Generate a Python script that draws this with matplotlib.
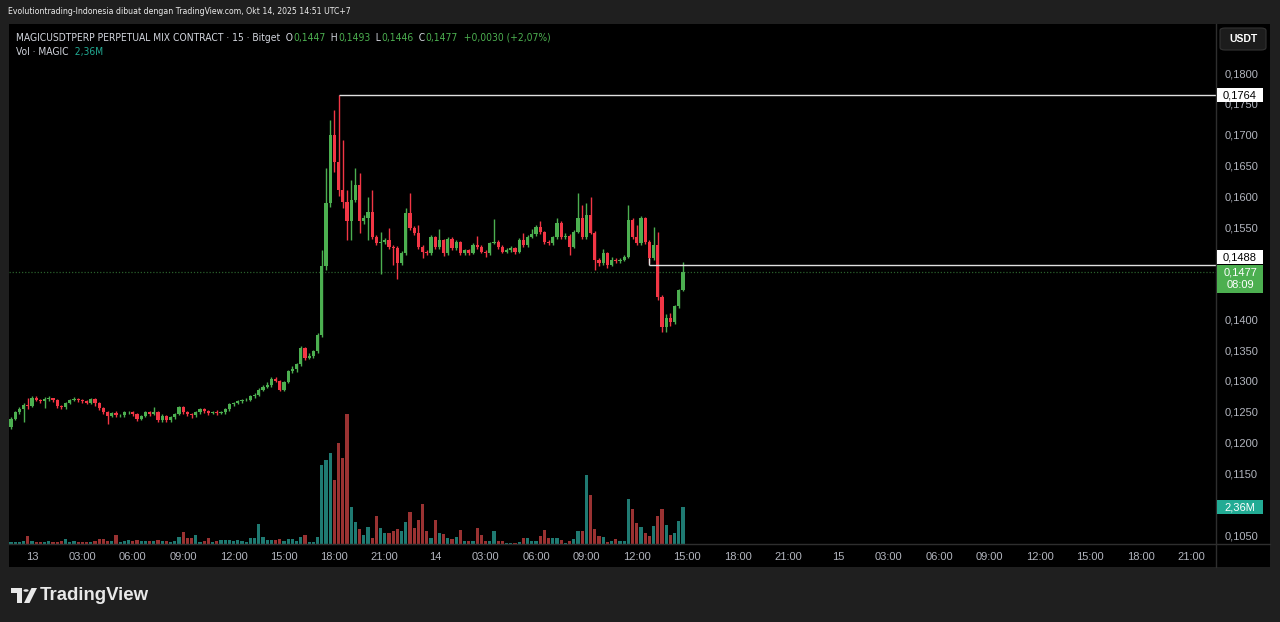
import matplotlib
matplotlib.use("Agg")
import matplotlib.pyplot as plt
import numpy as np
from matplotlib.patches import Rectangle, FancyBboxPatch, Polygon, Circle
from matplotlib.lines import Line2D
from matplotlib import font_manager

# ---------------- data (MAGICUSDTPERP, 15m, Bitget) ----------------
first_open = 0.1225
closes = [
    0.1238, 0.1249, 0.1254, 0.1261, 0.1259, 0.1272, 0.1269, 0.1267, 0.1270, 0.1272,
    0.1269, 0.1259, 0.1257, 0.1264, 0.1269, 0.1270, 0.1269, 0.1267, 0.1264, 0.1270,
    0.1264, 0.1256, 0.1249, 0.1243, 0.1248, 0.1244, 0.1244, 0.1249, 0.1249, 0.1246,
    0.1239, 0.1243, 0.1249, 0.1246, 0.1249, 0.1236, 0.1243, 0.1236, 0.1241, 0.1246,
    0.1257, 0.1249, 0.1246, 0.1244, 0.1249, 0.1254, 0.1251, 0.1248, 0.1249, 0.1248,
    0.1249, 0.1254, 0.1262, 0.1264, 0.1267, 0.1269, 0.1269, 0.1275, 0.1278, 0.1286,
    0.1291, 0.1293, 0.1303, 0.1300, 0.1286, 0.1298, 0.1316, 0.1319, 0.1327, 0.1354,
    0.1337, 0.1340, 0.1348, 0.1375, 0.1486, 0.1589, 0.1700, 0.1656, 0.1610, 0.1591,
    0.1559, 0.1594, 0.1618, 0.1559, 0.1565, 0.1575, 0.1534, 0.1524, 0.1526, 0.1529,
    0.1518, 0.1516, 0.1492, 0.1508, 0.1573, 0.1549, 0.1541, 0.1518, 0.1510, 0.1508,
    0.1534, 0.1518, 0.1529, 0.1507, 0.1531, 0.1516, 0.1526, 0.1508, 0.1512, 0.1508,
    0.1521, 0.1518, 0.1510, 0.1508, 0.1524, 0.1526, 0.1518, 0.1510, 0.1513, 0.1516,
    0.1510, 0.1529, 0.1520, 0.1534, 0.1538, 0.1550, 0.1542, 0.1526, 0.1524, 0.1533,
    0.1557, 0.1533, 0.1536, 0.1518, 0.1542, 0.1565, 0.1534, 0.1570, 0.1541, 0.1497,
    0.1492, 0.1508, 0.1489, 0.1497, 0.1494, 0.1497, 0.1502, 0.1562, 0.1533, 0.1524,
    0.1565, 0.1526, 0.1500, 0.1521, 0.1436, 0.1388, 0.1403, 0.1395, 0.1421, 0.1447,
    0.1477,
]
highs = [
    0.1241, 0.1252, 0.1257, 0.1264, 0.1272, 0.1275, 0.1275, 0.1271, 0.1274, 0.1275,
    0.1273, 0.1271, 0.1261, 0.1266, 0.1271, 0.1274, 0.1272, 0.1271, 0.1269, 0.1273,
    0.1272, 0.1266, 0.1258, 0.1251, 0.1250, 0.1251, 0.1247, 0.1252, 0.1252, 0.1251,
    0.1248, 0.1245, 0.1251, 0.1252, 0.1257, 0.1251, 0.1246, 0.1245, 0.1243, 0.1248,
    0.1260, 0.1259, 0.1251, 0.1248, 0.1251, 0.1256, 0.1256, 0.1253, 0.1251, 0.1253,
    0.1251, 0.1256, 0.1264, 0.1266, 0.1269, 0.1271, 0.1272, 0.1277, 0.1280, 0.1289,
    0.1294, 0.1298, 0.1306, 0.1307, 0.1302, 0.1300, 0.1318, 0.1324, 0.1330, 0.1357,
    0.1356, 0.1346, 0.1350, 0.1378, 0.1513, 0.1646, 0.1724, 0.1740, 0.1764, 0.1691,
    0.1610, 0.1627, 0.1646, 0.1638, 0.1570, 0.1598, 0.1610, 0.1537, 0.1542, 0.1532,
    0.1548, 0.1521, 0.1519, 0.1511, 0.1581, 0.1606, 0.1552, 0.1554, 0.1521, 0.1513,
    0.1537, 0.1536, 0.1547, 0.1531, 0.1534, 0.1533, 0.1529, 0.1528, 0.1515, 0.1514,
    0.1524, 0.1536, 0.1520, 0.1512, 0.1526, 0.1563, 0.1529, 0.1520, 0.1516, 0.1519,
    0.1518, 0.1532, 0.1541, 0.1537, 0.1546, 0.1554, 0.1559, 0.1544, 0.1529, 0.1536,
    0.1565, 0.1559, 0.1540, 0.1538, 0.1545, 0.1606, 0.1586, 0.1589, 0.1598, 0.1544,
    0.1500, 0.1515, 0.1510, 0.1502, 0.1500, 0.1500, 0.1505, 0.1586, 0.1565, 0.1554,
    0.1568, 0.1567, 0.1529, 0.1550, 0.1542, 0.1440, 0.1408, 0.1410, 0.1424, 0.1450,
    0.1493,
]
lows = [
    0.1222, 0.1236, 0.1246, 0.1233, 0.1254, 0.1257, 0.1267, 0.1264, 0.1256, 0.1268,
    0.1266, 0.1256, 0.1254, 0.1255, 0.1262, 0.1267, 0.1266, 0.1265, 0.1262, 0.1262,
    0.1260, 0.1253, 0.1246, 0.1230, 0.1241, 0.1241, 0.1241, 0.1242, 0.1246, 0.1243,
    0.1235, 0.1237, 0.1241, 0.1243, 0.1244, 0.1233, 0.1234, 0.1233, 0.1234, 0.1239,
    0.1244, 0.1246, 0.1243, 0.1240, 0.1242, 0.1247, 0.1248, 0.1245, 0.1246, 0.1245,
    0.1246, 0.1247, 0.1252, 0.1260, 0.1262, 0.1265, 0.1267, 0.1267, 0.1273, 0.1276,
    0.1284, 0.1289, 0.1291, 0.1298, 0.1284, 0.1284, 0.1296, 0.1313, 0.1314, 0.1325,
    0.1334, 0.1335, 0.1338, 0.1346, 0.1372, 0.1480, 0.1582, 0.1640, 0.1600, 0.1581,
    0.1529, 0.1529, 0.1590, 0.1540, 0.1555, 0.1529, 0.1530, 0.1520, 0.1473, 0.1522,
    0.1515, 0.1489, 0.1465, 0.1489, 0.1505, 0.1545, 0.1537, 0.1515, 0.1500, 0.1505,
    0.1505, 0.1514, 0.1515, 0.1503, 0.1505, 0.1512, 0.1513, 0.1505, 0.1505, 0.1505,
    0.1506, 0.1515, 0.1507, 0.1502, 0.1505, 0.1522, 0.1515, 0.1507, 0.1507, 0.1510,
    0.1506, 0.1508, 0.1517, 0.1518, 0.1532, 0.1536, 0.1539, 0.1523, 0.1520, 0.1521,
    0.1531, 0.1530, 0.1530, 0.1505, 0.1516, 0.1540, 0.1531, 0.1531, 0.1538, 0.1481,
    0.1487, 0.1489, 0.1484, 0.1486, 0.1491, 0.1491, 0.1494, 0.1500, 0.1530, 0.1520,
    0.1521, 0.1522, 0.1492, 0.1497, 0.1432, 0.1379, 0.1380, 0.1390, 0.1392, 0.1418,
    0.1446,
]
volumes_m = [
    0.13, 0.13, 0.13, 0.19, 0.51, 0.19, 0.13, 0.13, 0.13, 0.19,
    0.13, 0.13, 0.19, 0.32, 0.13, 0.19, 0.13, 0.13, 0.13, 0.13,
    0.19, 0.32, 0.32, 0.19, 0.19, 0.57, 0.13, 0.19, 0.26, 0.19,
    0.26, 0.19, 0.19, 0.19, 0.19, 0.26, 0.19, 0.19, 0.13, 0.19,
    0.45, 0.77, 0.38, 0.38, 0.57, 0.13, 0.19, 0.38, 0.13, 0.19,
    0.26, 0.26, 0.26, 0.19, 0.26, 0.19, 0.13, 0.38, 0.38, 1.28,
    0.45, 0.26, 0.26, 0.26, 0.32, 0.19, 0.32, 0.32, 0.19,
    0.45, 0.57, 0.13, 0.13, 0.45, 5.04, 5.36, 5.81, 4.08, 6.44,
    5.49, 8.29, 2.36, 1.40, 0.96, 0.57, 1.08,
    0.38, 1.79, 1.02, 0.70, 0.70, 0.83, 0.96, 0.83, 1.40, 2.04,
    1.02, 1.53, 2.55, 0.83, 0.38, 1.53, 0.70, 0.64, 0.38, 0.32,
    0.45, 0.89, 0.19, 0.19, 0.19, 1.02, 0.57, 0.19, 0.19, 0.83,
    0.19, 0.19, 0.06, 0.06, 0.06, 0.13, 0.38, 0.38, 0.19, 0.19,
    0.51, 0.89, 0.38, 0.38, 0.38, 0.26, 0.06, 0.19, 0.32, 0.83,
    0.83, 4.40, 3.13, 0.96, 0.51, 0.45, 0.13, 0.19, 0.32, 0.19,
    0.19, 2.87, 2.23, 1.34, 1.08, 0.70, 0.51, 1.15, 1.79, 2.23,
    1.21, 0.57, 0.70, 1.47, 2.36,
]
price_ticks = [0.1050, 0.1100, 0.1150, 0.1200, 0.1250, 0.1300, 0.1350, 0.1400,
               0.1450, 0.1500, 0.1550, 0.1600, 0.1650, 0.1700, 0.1750, 0.1800]
hidden_price_labels = [0.1100, 0.1450, 0.1500]   # covered by the axis badges
time_labels = ["13", "03:00", "06:00", "09:00", "12:00", "15:00", "18:00", "21:00",
               "14", "03:00", "06:00", "09:00", "12:00", "15:00", "18:00", "21:00",
               "15", "03:00", "06:00", "09:00", "12:00", "15:00", "18:00", "21:00"]
first_label_bar = 5      # bar index of 13 Oct 00:00
bars_per_label = 12      # 3 hours of 15-minute bars
last_price = 0.1477
last_volume_label = "2,36M"
countdown = "08:09"
high_ray_price = 0.1764
high_ray_bar = 78
support_ray_price = 0.1488
support_ray_bar = 152
support_ray_from = 0.1500

header_top = "Evolutiontrading-Indonesia dibuat dengan TradingView.com, Okt 14, 2025 14:51 UTC+7"
symbol_text = "MAGICUSDTPERP PERPETUAL MIX CONTRACT · 15 · Bitget"
ohlc = {"O": "0,1447", "H": "0,1493", "L": "0,1446", "C": "0,1477"}
change_text = "+0,0030 (+2,07%)"

# ---------------- style ----------------
W, H = 1280, 622
BG = "#1f1f1f"
UP = "#4caf50"
DOWN = "#f23645"
VUP = "#1f7a72"
VDOWN = "#9a3232"
TXT = "#d1d4dc"
AXT = "#b2b5be"
SEP = "#2e2e2e"
FONT = ["Liberation Sans", "DejaVu Sans"]
plt.rcParams["font.family"] = FONT

# a condensed face for the header lines, if one is installed
cond_props = font_manager.FontProperties(family="DejaVu Sans", stretch="condensed")
try:
    cond_path = font_manager.findfont(cond_props, fallback_to_default=False)
except Exception:
    cond_path = ""
if "Condensed" in cond_path or "Narrow" in cond_path:
    HFAM, HSTRETCH = ["DejaVu Sans"], "condensed"
else:
    HFAM, HSTRETCH = FONT, "normal"

fig = plt.figure(figsize=(W / 100, H / 100), dpi=100, facecolor=BG)


def fx(x):
    return x / W


def fy(y):
    return 1 - y / H


# black chart panel
fig.patches.append(Rectangle((fx(9), fy(567)), fx(1270 - 9), (567 - 24) / H,
                             transform=fig.transFigure, facecolor="black",
                             edgecolor="none", zorder=0))

L, R, T, B = 9, 1216, 24, 544
rect = [fx(L), fy(B), fx(R - L), (B - T) / H]
axv = fig.add_axes(rect, facecolor="black", zorder=1)
ax = fig.add_axes(rect, sharex=axv, zorder=2)
ax.patch.set_alpha(0)

o = np.array([first_open] + closes[:-1])
c = np.array(closes)
h = np.array(highs)
lo = np.array(lows)
v = np.array(volumes_m)
idx = np.arange(len(c))
up = c >= o
cols = np.where(up, UP, DOWN)

# price scale: 0.1800 at y=73 px, 30.8 px per 0.005
px_per_unit = 30.8 / 0.005
ytop = 0.18 + (73 - T) / px_per_unit
ybot = 0.18 - (B - 73) / px_per_unit
ax.set_ylim(ybot, ytop)
bar_px = 4.2
x0_bar_px = 11
ax.set_xlim((L - x0_bar_px) / bar_px, (R - x0_bar_px) / bar_px)

# candles
ax.vlines(idx, lo, h, colors=cols, linewidth=1.0, zorder=3)
body = np.maximum(np.abs(c - o), 0.00006)
ax.bar(idx, body, bottom=np.minimum(o, c), width=0.74, color=cols,
       linewidth=0, zorder=4)

# volume
vcols = np.where(up, VUP, VDOWN)
axv.bar(idx, v, width=0.76, color=vcols, linewidth=0)
axv.set_ylim(0, 2.36 / 37 * (B - T))
for a in (ax, axv):
    for s in a.spines.values():
        s.set_visible(False)
axv.set_yticks([])
axv.tick_params(axis="x", length=0, labelbottom=False)

# axes ticks
ax.yaxis.tick_right()
ax.set_yticks(price_ticks)
ax.set_yticklabels(["" if p in hidden_price_labels else f"{p:.4f}".replace(".", ",")
                    for p in price_ticks])
ax.tick_params(axis="y", length=0, pad=6, labelcolor=AXT, labelsize=8)
tick_pos = [first_label_bar + i * bars_per_label for i in range(len(time_labels))]
ax.set_xticks(tick_pos)
ax.set_xticklabels(time_labels)
ax.tick_params(axis="x", length=0, pad=6, labelcolor=AXT, labelsize=8)
axv.set_xticks(tick_pos)

# current price dotted line and rays
ax.axhline(last_price, color=UP, alpha=0.55, linestyle=(0, (1, 1.5)), linewidth=0.9, zorder=2)
ax.hlines(high_ray_price, high_ray_bar, ax.get_xlim()[1], color="#e0e0e0", linewidth=1.0, zorder=5)
ax.hlines(support_ray_price, support_ray_bar, ax.get_xlim()[1], color="#e0e0e0", linewidth=1.0, zorder=5)
ax.vlines(support_ray_bar, support_ray_price, support_ray_from, color="#e0e0e0", linewidth=1.0, zorder=5)

# separators
fig.lines.append(Line2D([fx(R), fx(R)], [fy(24), fy(567)], transform=fig.transFigure,
                        color=SEP, linewidth=1, zorder=5))
fig.lines.append(Line2D([fx(9), fx(1270)], [fy(B), fy(B)], transform=fig.transFigure,
                        color=SEP, linewidth=1, zorder=5))


def ypix(price):
    return H - ax.transData.transform((0, price))[1]


def label_box(yc, lines, fc, tc, hgt=14):
    fig.patches.append(Rectangle((fx(R + 1), fy(yc + hgt / 2)), fx(46), hgt / H,
                                 transform=fig.transFigure, facecolor=fc,
                                 edgecolor="none", zorder=20))
    n = len(lines)
    for i, s in enumerate(lines):
        yy = yc + (i - (n - 1) / 2) * 12
        fig.text(fx(R + 24), fy(yy), s, color=tc, fontsize=8, ha="center",
                 va="center", zorder=21)


label_box(ypix(high_ray_price), [f"{high_ray_price:.4f}".replace(".", ",")], "white", "black")
label_box(ypix(support_ray_price) - 8, [f"{support_ray_price:.4f}".replace(".", ",")], "white", "black")
label_box(ypix(last_price) + 7, [f"{last_price:.4f}".replace(".", ","), countdown],
          UP, "white", hgt=28)
label_box(H - axv.transData.transform((0, volumes_m[-1]))[1], [last_volume_label], "#22ab94", "white")

# USDT button
fig.patches.append(FancyBboxPatch((fx(1220), fy(50)), fx(46), 22 / H,
                                  boxstyle="round,pad=0,rounding_size=0.004",
                                  transform=fig.transFigure, facecolor="#1c1c1c",
                                  edgecolor="#333333", linewidth=0.8, zorder=20))
fig.text(fx(1243), fy(39), "USDT", color="white", fontsize=7.5, fontweight="bold",
         ha="center", va="center", zorder=21)

# header texts
renderer = fig.canvas.get_renderer()


def fit_size(s, target, base=9.0):
    tt = fig.text(0, 0, s, fontsize=base, family=HFAM, fontstretch=HSTRETCH)
    wd = tt.get_window_extent(renderer=renderer).width
    tt.remove()
    return base * target / wd


top_size = fit_size(header_top, 340)
fig.text(fx(8), fy(12), header_top, color="#ececec", fontsize=top_size, family=HFAM,
         fontstretch=HSTRETCH, ha="left", va="center", zorder=21)


def segments(x, y, segs, size):
    for s, col in segs:
        tt = fig.text(fx(x), fy(y), s, color=col, fontsize=size, family=HFAM,
                      fontstretch=HSTRETCH, ha="left", va="center", zorder=21)
        x += tt.get_window_extent(renderer=renderer).width


seg1 = [(symbol_text, TXT)]
for k, val in ohlc.items():
    seg1.append(("  " + k, TXT))
    seg1.append((val, UP))
seg1.append(("  " + change_text, UP))
full1 = "".join(s for s, _ in seg1)
size1 = min(fit_size(full1, 537), 9.0)
segments(16, 38, seg1, size1)
segments(16, 52, [("Vol · MAGIC", TXT), ("  " + last_volume_label, "#22ab94")], size1)

# TradingView logo
fig.patches.append(Polygon([[fx(11), fy(588)], [fx(22), fy(588)], [fx(22), fy(603)],
                            [fx(17), fy(603)], [fx(17), fy(593)], [fx(11), fy(593)]],
                           closed=True, transform=fig.transFigure, facecolor="#e8e8e8",
                           edgecolor="none", zorder=21))
fig.patches.append(Circle((fx(26), fy(590.5)), 2.6 / W, transform=fig.transFigure,
                          facecolor="#e8e8e8", edgecolor="none", zorder=21))
fig.patches.append(Polygon([[fx(24), fy(603)], [fx(29.5), fy(603)], [fx(37), fy(588)],
                            [fx(31.5), fy(588)]], closed=True, transform=fig.transFigure,
                           facecolor="#e8e8e8", edgecolor="none", zorder=21))
fig.text(fx(40), fy(596), "TradingView", color="#e8e8e8", fontsize=13.4,
         fontweight="bold", ha="left", va="center", zorder=21)

fig.savefig("out.png", dpi=100, facecolor=BG)
